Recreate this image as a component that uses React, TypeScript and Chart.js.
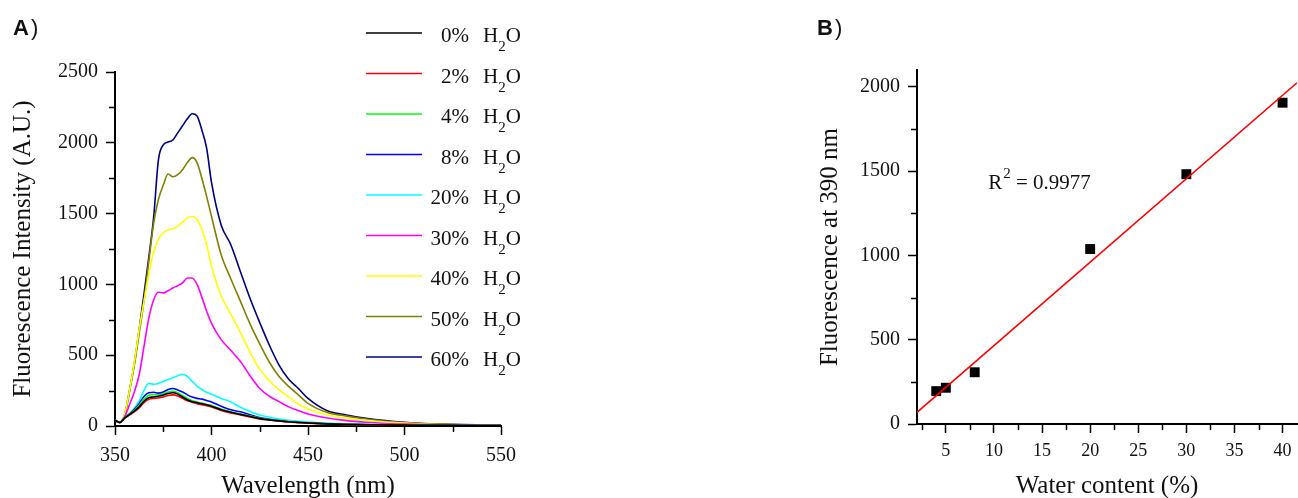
import React, { useEffect, useRef } from 'react';
import { Chart, registerables } from 'chart.js';

Chart.register(...registerables);

// ---------- Panel A data ----------
const wavelengths = [350, 352.5, 355, 357.5, 360, 362.5, 365, 367.5, 370, 372.5, 375, 377.5, 380, 382.5, 385, 387.5, 390, 392.5, 395, 397.5, 400, 405, 410, 415, 420, 425, 430, 435, 440, 445, 450, 460, 470, 480, 490, 500, 510, 520, 530, 540, 550];

const water0 = [40, 25, 55, 80, 105, 135, 175, 200, 205, 210, 218, 230, 235, 225, 205, 185, 172, 165, 158, 150, 140, 115, 97, 82, 67, 52, 43, 36, 30, 25, 21, 15, 11, 9, 7, 6, 5, 5, 4, 4, 3];
const water2 = [40, 25, 55, 78, 100, 128, 165, 188, 195, 198, 205, 215, 220, 212, 195, 178, 168, 158, 150, 143, 135, 110, 92, 78, 64, 50, 42, 35, 28, 24, 20, 14, 10, 8, 6, 5, 4, 4, 3, 3, 3];
const water4 = [40, 25, 58, 82, 110, 145, 190, 218, 222, 220, 228, 240, 245, 235, 215, 195, 180, 170, 160, 152, 145, 120, 100, 85, 70, 55, 45, 36, 30, 25, 21, 15, 11, 9, 7, 6, 5, 5, 4, 4, 3];
const water8 = [40, 25, 60, 85, 118, 158, 208, 235, 238, 232, 240, 258, 265, 255, 240, 220, 205, 195, 190, 180, 170, 140, 115, 100, 80, 60, 48, 38, 30, 26, 22, 16, 12, 10, 8, 7, 6, 5, 5, 4, 4];
const water20 = [40, 25, 60, 85, 125, 175, 250, 300, 295, 300, 315, 328, 340, 355, 365, 350, 315, 282, 258, 238, 225, 195, 170, 132, 102, 78, 62, 50, 40, 33, 28, 20, 15, 12, 10, 8, 7, 6, 5, 5, 4];
const water30 = [40, 25, 65, 150, 240, 360, 560, 760, 890, 945, 940, 955, 975, 990, 1010, 1045, 1045, 1000, 910, 810, 725, 610, 535, 455, 355, 265, 210, 172, 135, 108, 85, 56, 38, 26, 18, 13, 10, 8, 6, 5, 4];
const water40 = [40, 25, 85, 250, 450, 680, 880, 1070, 1230, 1320, 1365, 1385, 1395, 1410, 1440, 1470, 1480, 1460, 1390, 1280, 1130, 920, 790, 660, 520, 400, 320, 255, 205, 155, 120, 80, 55, 40, 28, 20, 14, 10, 8, 6, 5];
const water50 = [40, 25, 80, 240, 430, 650, 880, 1160, 1430, 1600, 1700, 1780, 1760, 1775, 1810, 1860, 1895, 1860, 1750, 1620, 1480, 1210, 1040, 880, 720, 580, 450, 350, 280, 220, 160, 95, 70, 50, 34, 24, 16, 12, 9, 7, 5];
const water60 = [40, 25, 80, 250, 440, 680, 930, 1190, 1470, 1880, 1985, 2005, 2020, 2070, 2120, 2170, 2205, 2190, 2090, 1960, 1720, 1420, 1280, 1090, 900, 730, 570, 430, 330, 265, 195, 108, 78, 55, 38, 26, 18, 14, 10, 8, 6];

const seriesList = [water0, water2, water4, water8, water20, water30, water40, water50, water60];
const legendLabels = ['0%', '2%', '4%', '8%', '20%', '30%', '40%', '50%', '60%'];
const seriesColors = ['#000000', '#ff0000', '#00ff00', '#0000ff', '#00ffff', '#ff00ff', '#ffff00', '#808000', '#000080'];

const waveMajorTicks = [350, 400, 450, 500, 550];
const waveMinorTicks = [375, 425, 475, 525];
const intensityMajorTicks = [0, 500, 1000, 1500, 2000, 2500];
const intensityMinorTicks = [250, 750, 1250, 1750, 2250];

// ---------- Panel B data ----------
const waterContent = [4, 5, 8, 20, 30, 40];
const fluor390 = [195, 215, 307, 1038, 1482, 1906];
const fitX = [2, 41.5];
const fitY = [69, 2024];
const waterMajorTicks = [5, 10, 15, 20, 25, 30, 35, 40];
const waterMinorTicks = [2.5, 7.5, 12.5, 17.5, 22.5, 27.5, 32.5, 37.5];
const fluorMajorTicks = [0, 500, 1000, 1500, 2000];
const fluorMinorTicks = [250, 750, 1250, 1750];
const r2Text = ' = 0.9977';
const r2Anchor = { x: 9.4, y: 1395 };

const SERIF = '"Liberation Serif", "Times New Roman", serif';
const SANS = '"Liberation Sans", Arial, sans-serif';
const TEXT = '#111111';

function drawMinorTicks(chart: any, xs: number[], ys: number[]) {
  const { ctx, chartArea } = chart;
  const sx = chart.scales.x;
  const sy = chart.scales.y;
  ctx.save();
  ctx.strokeStyle = '#000';
  ctx.lineWidth = 1.5;
  ctx.beginPath();
  xs.forEach((v) => {
    const px = Math.round(sx.getPixelForValue(v)) + 0.5;
    ctx.moveTo(px, chartArea.bottom);
    ctx.lineTo(px, chartArea.bottom + 6);
  });
  ys.forEach((v) => {
    const py = Math.round(sy.getPixelForValue(v)) + 0.5;
    ctx.moveTo(chartArea.left - 6, py);
    ctx.lineTo(chartArea.left, py);
  });
  ctx.stroke();
  ctx.restore();
}

function panelLabel(ctx: CanvasRenderingContext2D, letter: string, x: number, y: number) {
  ctx.save();
  ctx.fillStyle = TEXT;
  ctx.textBaseline = 'alphabetic';
  ctx.textAlign = 'left';
  ctx.font = `bold 22px ${SANS}`;
  ctx.fillText(letter, x, y);
  const w = ctx.measureText(letter).width;
  ctx.font = `22px ${SANS}`;
  ctx.fillText(')', x + w + 2, y);
  ctx.restore();
}

const decoA = {
  id: 'decoA',
  afterDraw(chart: any) {
    const ctx = chart.ctx as CanvasRenderingContext2D;
    drawMinorTicks(chart, waveMinorTicks, intensityMinorTicks);
    panelLabel(ctx, 'A', 13, 35);
    ctx.save();
    legendLabels.forEach((lab, i) => {
      const y = 33 + i * 40.5;
      ctx.strokeStyle = seriesColors[i];
      ctx.lineWidth = 1.5;
      ctx.beginPath();
      ctx.moveTo(366, y);
      ctx.lineTo(422, y);
      ctx.stroke();
      ctx.fillStyle = TEXT;
      ctx.textBaseline = 'alphabetic';
      ctx.font = `21px ${SERIF}`;
      ctx.textAlign = 'right';
      ctx.fillText(lab, 469, y + 9);
      ctx.textAlign = 'left';
      let x = 483;
      ctx.fillText('H', x, y + 9);
      x += ctx.measureText('H').width;
      ctx.font = `15px ${SERIF}`;
      ctx.fillText('2', x, y + 18);
      x += ctx.measureText('2').width;
      ctx.font = `21px ${SERIF}`;
      ctx.fillText('O', x, y + 9);
    });
    ctx.restore();
  },
};

const decoB = {
  id: 'decoB',
  afterDraw(chart: any) {
    const ctx = chart.ctx as CanvasRenderingContext2D;
    drawMinorTicks(chart, waterMinorTicks, fluorMinorTicks);
    panelLabel(ctx, 'B', 17, 35);
    const px = chart.scales.x.getPixelForValue(r2Anchor.x);
    const py = chart.scales.y.getPixelForValue(r2Anchor.y);
    ctx.save();
    ctx.fillStyle = TEXT;
    ctx.textBaseline = 'alphabetic';
    ctx.textAlign = 'left';
    ctx.font = `21px ${SERIF}`;
    let x = px;
    ctx.fillText('R', x, py);
    x += ctx.measureText('R').width + 1;
    ctx.font = `15px ${SERIF}`;
    ctx.fillText('2', x, py - 11);
    x += ctx.measureText('2').width;
    ctx.font = `21px ${SERIF}`;
    ctx.fillText(r2Text, x, py);
    ctx.restore();
  },
};

function axisBase(ticksArr: number[], tickSize: number, padding: number, title: string, titlePad: any, isX: boolean, fixed: number) {
  return {
    type: 'linear' as const,
    afterBuildTicks: (s: any) => {
      s.ticks = ticksArr.map((v) => ({ value: v }));
    },
    afterFit: (s: any) => {
      if (isX) {
        s.height = fixed;
        s.paddingLeft = 0;
        s.paddingRight = 0;
      } else {
        s.width = fixed;
        s.paddingTop = 0;
        s.paddingBottom = 0;
      }
    },
    ticks: {
      autoSkip: false,
      maxRotation: 0,
      minRotation: 0,
      padding,
      color: TEXT,
      font: { family: SERIF, size: tickSize },
      callback: (v: any) => String(v),
    },
    grid: {
      drawOnChartArea: false,
      drawTicks: true,
      tickLength: 9,
      tickWidth: 1.5,
      tickColor: '#000',
    },
    border: { display: true, width: 2, color: '#000' },
    title: {
      display: true,
      text: title,
      color: TEXT,
      font: { family: SERIF, size: 25 },
      padding: titlePad,
    },
  };
}

export default function App() {
  const refA = useRef<HTMLCanvasElement>(null);
  const refB = useRef<HTMLCanvasElement>(null);

  useEffect(() => {
    const chartA = new Chart(refA.current as HTMLCanvasElement, {
      type: 'line',
      data: {
        datasets: seriesList.map((s, i) => ({
          label: `${legendLabels[i]} H2O`,
          data: wavelengths.map((w, j) => ({ x: w, y: s[j] })),
          borderColor: seriesColors[i],
          backgroundColor: seriesColors[i],
          borderWidth: 1.6,
          pointRadius: 0,
          cubicInterpolationMode: 'monotone' as const,
          fill: false,
        })),
      },
      options: {
        responsive: false,
        animation: false,
        devicePixelRatio: 1,
        events: [],
        layout: { autoPadding: false, padding: { left: 0, right: 59, top: 72, bottom: 0 } },
        plugins: { legend: { display: false }, tooltip: { enabled: false } },
        scales: {
          x: { ...axisBase(waveMajorTicks, 20, 9, 'Wavelength (nm)', { top: 0, bottom: -3 }, true, 72), min: 350, max: 550 },
          y: { ...axisBase(intensityMajorTicks, 20, 8, 'Fluorescence Intensity (A.U.)', { top: 8, bottom: 0 }, false, 115), min: 0, max: 2500 },
        },
      } as any,
      plugins: [decoA],
    });

    const chartB = new Chart(refB.current as HTMLCanvasElement, {
      type: 'scatter',
      data: {
        datasets: [
          {
            label: 'fit',
            data: fitX.map((x, i) => ({ x, y: fitY[i] })),
            showLine: true,
            borderColor: '#ff0000',
            borderWidth: 1.6,
            pointRadius: 0,
          },
          {
            label: 'data',
            data: waterContent.map((x, i) => ({ x, y: fluor390[i] })),
            pointStyle: 'rect',
            pointRadius: 7,
            backgroundColor: '#000',
            borderColor: '#000',
            borderWidth: 0,
          },
        ],
      },
      options: {
        responsive: false,
        animation: false,
        devicePixelRatio: 1,
        events: [],
        layout: { autoPadding: false, padding: { left: 0, right: 1, top: 70, bottom: 0 } },
        plugins: { legend: { display: false }, tooltip: { enabled: false } },
        scales: {
          x: { ...axisBase(waterMajorTicks, 18, 7, 'Water content (%)', { top: 0, bottom: -3 }, true, 74), min: 2, max: 41.5 },
          y: { ...axisBase(fluorMajorTicks, 20, 8, 'Fluorescence at 390 nm', { top: 15, bottom: 0 }, false, 117), min: 0, max: 2100 },
        },
      } as any,
      plugins: [decoB],
    });

    return () => {
      chartA.destroy();
      chartB.destroy();
    };
  }, []);

  return (
    <div style={{ position: 'absolute', left: 0, top: 0, width: 1298, height: 498, background: '#fff', overflow: 'hidden' }}>
      <canvas ref={refA} width={560} height={498} style={{ position: 'absolute', left: 0, top: 0, width: 560, height: 498 }} />
      <canvas ref={refB} width={498} height={498} style={{ position: 'absolute', left: 800, top: 0, width: 498, height: 498 }} />
    </div>
  );
}
